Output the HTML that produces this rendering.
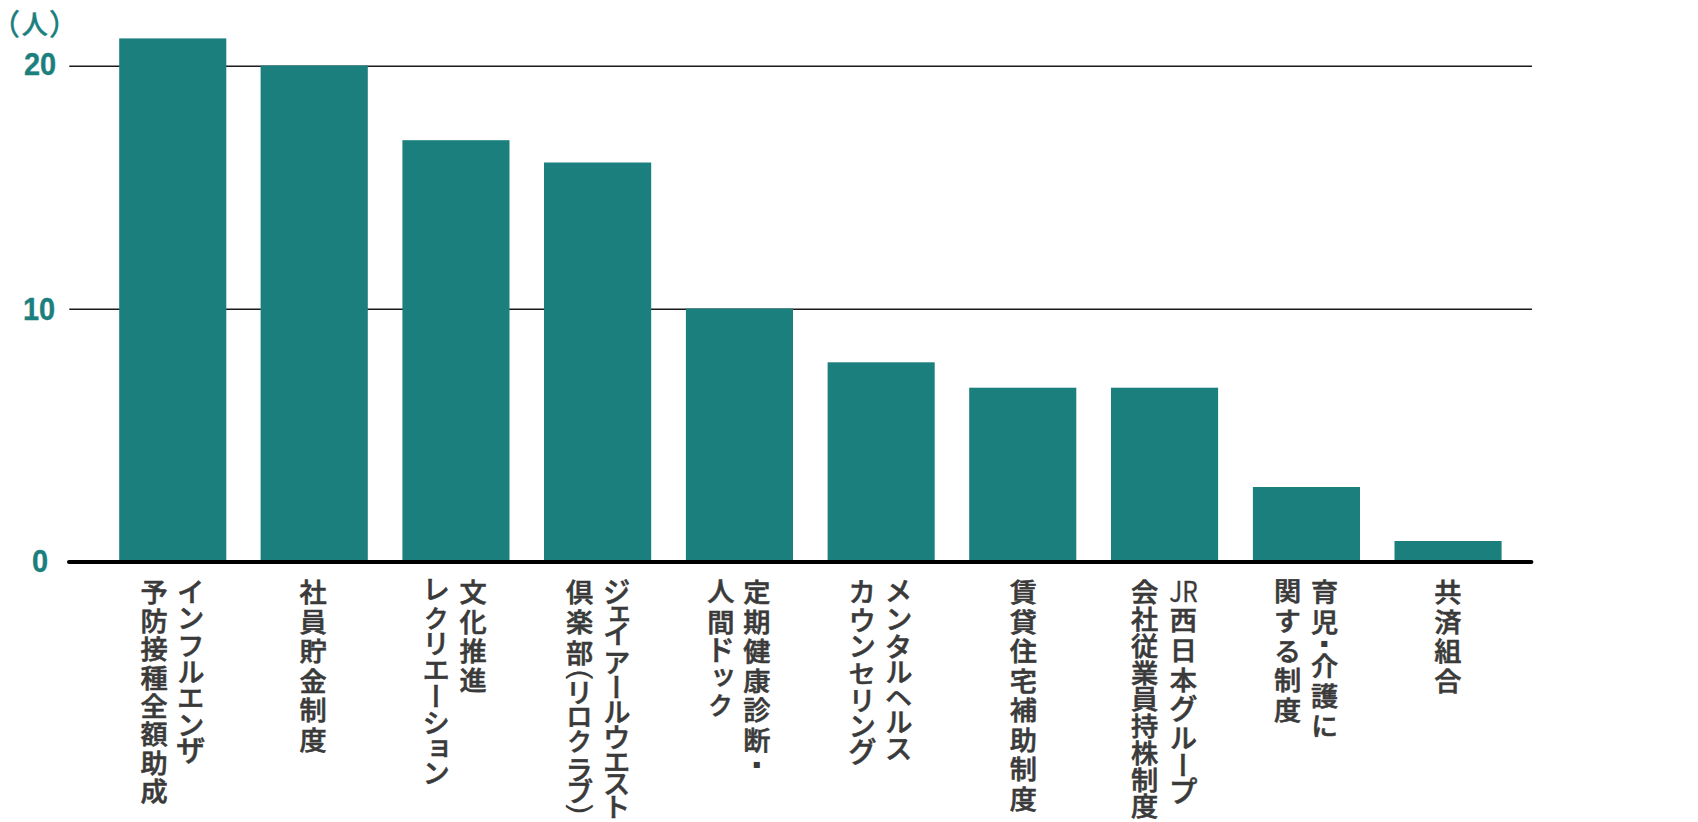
<!DOCTYPE html>
<html lang="ja">
<head>
<meta charset="utf-8">
<title>福利厚生制度 利用者数</title>
<style>
html,body{margin:0;padding:0;background:#fff;}
body{width:1698px;height:822px;position:relative;overflow:hidden;font-family:"Liberation Sans","Noto Sans CJK JP",sans-serif;}
svg{position:absolute;left:0;top:0;}
.yl{position:absolute;color:#1b807d;font-weight:700;font-size:30px;line-height:1;white-space:nowrap;transform:scale(0.965,1.02);transform-origin:0 0;-webkit-text-stroke:0.35px #1b807d;}
.unit{position:absolute;color:#1b807d;font-family:"Noto Sans CJK JP","Liberation Sans",sans-serif;font-weight:500;font-size:26.4px;line-height:1;white-space:nowrap;-webkit-text-stroke:0.35px #1b807d;}
.up{font-size:29.5px;-webkit-text-stroke-width:0.15px;}
.v{position:absolute;writing-mode:vertical-rl;-webkit-writing-mode:vertical-rl;font-family:"Noto Sans CJK JP","Liberation Sans",sans-serif;font-weight:500;font-size:28px;line-height:1;color:#3a3a3a;-webkit-text-stroke:0.6px #3a3a3a;white-space:nowrap;width:28px;font-kerning:none;transform-origin:50% 0;}
.labels,.lab,.col{position:absolute;left:0;top:0;width:0;height:0;}
.tcy{writing-mode:horizontal-tb;-webkit-writing-mode:horizontal-tb;text-align:center;}
.tcy>span{display:inline-block;transform:scaleX(0.87);transform-origin:50% 50%;}
</style>
</head>
<body>

<svg width="1698" height="822" viewBox="0 0 1698 822">
<line x1="69.3" y1="66.25" x2="1532" y2="66.25" stroke="#1a1a1a" stroke-width="1.5"/>
<line x1="69.3" y1="309.25" x2="1532" y2="309.25" stroke="#1a1a1a" stroke-width="1.5"/>
<rect x="119.2" y="38.4" width="107.1" height="522.6" fill="#1b807d"/>
<rect x="260.6" y="65.5" width="107.2" height="495.5" fill="#1b807d"/>
<rect x="402.4" y="140.2" width="107.1" height="420.8" fill="#1b807d"/>
<rect x="544.0" y="162.5" width="107.2" height="398.5" fill="#1b807d"/>
<rect x="685.9" y="308.5" width="107.1" height="252.5" fill="#1b807d"/>
<rect x="827.6" y="362.3" width="107.1" height="198.7" fill="#1b807d"/>
<rect x="969.2" y="387.7" width="107.1" height="173.3" fill="#1b807d"/>
<rect x="1111.0" y="387.7" width="107.1" height="173.3" fill="#1b807d"/>
<rect x="1252.9" y="487.0" width="107.1" height="74.0" fill="#1b807d"/>
<rect x="1394.5" y="541.0" width="107.1" height="20.0" fill="#1b807d"/>
<line x1="69" y1="562" x2="1531.4" y2="562" stroke="#000" stroke-width="4.1" stroke-linecap="round"/>
</svg>
<div class="col"><span id="u1" class="unit up" style="left:-9.24px;top:8.01px;">（</span><span id="u2" class="unit" style="left:21.46px;top:9.59px;">人</span><span id="u3" class="unit up" style="left:48.81px;top:8.02px;">）</span></div>
<div id="y20" class="yl" style="left:24.13px;top:48.7px;">20</div>
<div id="y10" class="yl" style="left:23.49px;top:294.05px;">10</div>
<div id="y0" class="yl" style="left:31.96px;top:546.2px;">0</div>
<div class="labels">
<div class="lab"><div class="col"><span id="c1_0" class="v" style="left:175.93px;top:577.63px;font-size:27.8px;width:27.8px;-webkit-text-stroke-width:0.55px;">イ</span><span id="c1_1" class="v" style="left:175.93px;top:603.92px;font-size:27.8px;width:27.8px;-webkit-text-stroke-width:0.55px;">ン</span><span id="c1_2" class="v" style="left:175.93px;top:631.54px;font-size:27.8px;width:27.8px;-webkit-text-stroke-width:0.55px;">フ</span><span id="c1_3" class="v" style="left:175.93px;top:657.76px;font-size:27.8px;width:27.8px;-webkit-text-stroke-width:0.55px;">ル</span><span id="c1_4" class="v" style="left:175.93px;top:684.15px;font-size:27.8px;width:27.8px;-webkit-text-stroke-width:0.55px;">エ</span><span id="c1_5" class="v" style="left:175.93px;top:710.82px;font-size:27.8px;width:27.8px;-webkit-text-stroke-width:0.55px;">ン</span><span id="c1_6" class="v" style="left:175.8px;top:735.14px;font-size:30.0px;width:30.0px;-webkit-text-stroke-width:0.55px;">ザ</span></div><div class="col"><span id="c2" class="v" style="left:139.85px;top:578.74px;letter-spacing:2.12px;font-size:27.2px;width:27.2px;transform:scaleY(0.97);">予防接種全額助成</span></div></div>
<div class="lab"><div class="col"><span id="c3" class="v" style="left:298.95px;top:578.68px;letter-spacing:3.22px;font-size:27.2px;width:27.2px;transform:scaleY(0.97);">社員貯金制度</span></div></div>
<div class="lab"><div class="col"><span id="c4" class="v" style="left:458.85px;top:578.62px;letter-spacing:3.05px;font-size:27.2px;width:27.2px;transform:scaleY(0.97);">文化推進</span></div><div class="col"><span id="c5_0" class="v" style="left:421.33px;top:575.06px;font-size:27.8px;width:27.8px;-webkit-text-stroke-width:0.55px;">レ</span><span id="c5_1" class="v" style="left:423.19px;top:606.49px;font-size:25.0px;width:25.0px;-webkit-text-stroke-width:0.55px;">ク</span><span id="c5_2" class="v" style="left:421.33px;top:629.85px;font-size:27.8px;width:27.8px;-webkit-text-stroke-width:0.55px;">リ</span><span id="c5_3" class="v" style="left:421.33px;top:656.15px;font-size:27.8px;width:27.8px;-webkit-text-stroke-width:0.55px;">エ</span><span id="c5_4" class="v" style="left:421.33px;top:682.64px;font-size:27.8px;width:27.8px;-webkit-text-stroke-width:0.55px;">ー</span><span id="c5_5" class="v" style="left:421.33px;top:708.59px;font-size:27.8px;width:27.8px;-webkit-text-stroke-width:0.55px;">シ</span><span id="c5_6" class="v" style="left:421.33px;top:735.4px;font-size:27.8px;width:27.8px;-webkit-text-stroke-width:0.55px;">ョ</span><span id="c5_7" class="v" style="left:421.33px;top:758.96px;font-size:27.8px;width:27.8px;-webkit-text-stroke-width:0.55px;">ン</span></div></div>
<div class="lab"><div class="col"><span id="c6_0" class="v" style="left:601.93px;top:577.08px;font-size:27.8px;width:27.8px;transform:scaleY(1.08);-webkit-text-stroke-width:0.55px;">ジ</span><span id="c6_1" class="v" style="left:601.93px;top:600.92px;font-size:27.8px;width:27.8px;-webkit-text-stroke-width:0.55px;">ェ</span><span id="c6_2" class="v" style="left:601.93px;top:620.23px;font-size:27.8px;width:27.8px;-webkit-text-stroke-width:0.55px;">イ</span><span id="c6_3" class="v" style="left:601.93px;top:648.95px;font-size:27.8px;width:27.8px;-webkit-text-stroke-width:0.55px;">ア</span><span id="c6_4" class="v" style="left:601.93px;top:674.24px;font-size:27.8px;width:27.8px;-webkit-text-stroke-width:0.55px;">ー</span><span id="c6_5" class="v" style="left:601.93px;top:697.56px;font-size:27.8px;width:27.8px;-webkit-text-stroke-width:0.55px;">ル</span><span id="c6_6" class="v" style="left:601.93px;top:723.99px;font-size:27.8px;width:27.8px;-webkit-text-stroke-width:0.55px;">ウ</span><span id="c6_7" class="v" style="left:601.93px;top:748.23px;font-size:27.8px;width:27.8px;-webkit-text-stroke-width:0.55px;">エ</span><span id="c6_8" class="v" style="left:601.93px;top:770.19px;font-size:27.8px;width:27.8px;-webkit-text-stroke-width:0.55px;">ス</span><span id="c6_9" class="v" style="left:601.93px;top:793.3px;font-size:27.8px;width:27.8px;-webkit-text-stroke-width:0.55px;">ト</span></div><div class="col"><span id="c7a" class="v" style="left:565.45px;top:579.13px;letter-spacing:3.92px;font-size:27.2px;width:27.2px;transform:scaleY(0.97);">倶楽部</span><span id="c7b" class="v" style="left:569.12px;top:668.14px;font-size:27px;width:27px;transform:scaleY(1.4);-webkit-text-stroke-width:0px;font-weight:400;">(</span><span id="c7c_0" class="v" style="left:564.53px;top:679.02px;font-size:27.8px;width:27.8px;-webkit-text-stroke-width:0.55px;">リ</span><span id="c7c_1" class="v" style="left:564.53px;top:702.77px;font-size:27.8px;width:27.8px;-webkit-text-stroke-width:0.55px;">ロ</span><span id="c7c_2" class="v" style="left:566.39px;top:728.82px;font-size:25.0px;width:25.0px;-webkit-text-stroke-width:0.55px;">ク</span><span id="c7c_3" class="v" style="left:564.53px;top:755.85px;font-size:27.8px;width:27.8px;-webkit-text-stroke-width:0.55px;">ラ</span><span id="c7c_4" class="v" style="left:564.53px;top:777.9px;font-size:27.8px;width:27.8px;-webkit-text-stroke-width:0.55px;">ブ</span><span id="c7d" class="v" style="left:569.12px;top:803.0px;font-size:27px;width:27px;transform:scaleY(1.4);-webkit-text-stroke-width:0px;font-weight:400;">)</span></div></div>
<div class="lab"><div class="col"><span id="c8a" class="v" style="left:742.75px;top:579.2px;letter-spacing:3.26px;font-size:27.2px;width:27.2px;transform:scaleY(0.97);">定期健康診断</span><span id="c8b" class="v" style="left:734.6px;top:742.38px;font-size:45px;width:45px;-webkit-text-stroke-width:0px;font-weight:400;font-family:IPAGothic,'Noto Sans CJK JP',sans-serif;">・</span></div><div class="col"><span id="c9a" class="v" style="left:706.55px;top:577.68px;letter-spacing:4.59px;font-size:27.2px;width:27.2px;transform:scaleY(0.97);">人間</span><span id="c9b_0" class="v" style="left:705.01px;top:634.75px;font-size:29.5px;width:29.5px;-webkit-text-stroke-width:0.55px;">ド</span><span id="c9b_1" class="v" style="left:705.63px;top:663.69px;font-size:27.8px;width:27.8px;-webkit-text-stroke-width:0.55px;">ッ</span><span id="c9b_2" class="v" style="left:707.49px;top:692.93px;font-size:25.0px;width:25.0px;-webkit-text-stroke-width:0.55px;">ク</span></div></div>
<div class="lab"><div class="col"><span id="c10_0" class="v" style="left:883.93px;top:576.96px;font-size:27.8px;width:27.8px;-webkit-text-stroke-width:0.55px;">メ</span><span id="c10_1" class="v" style="left:883.93px;top:604.72px;font-size:27.8px;width:27.8px;-webkit-text-stroke-width:0.55px;">ン</span><span id="c10_2" class="v" style="left:883.93px;top:633.2px;font-size:27.8px;width:27.8px;-webkit-text-stroke-width:0.55px;">タ</span><span id="c10_3" class="v" style="left:883.93px;top:658.36px;font-size:27.8px;width:27.8px;-webkit-text-stroke-width:0.55px;">ル</span><span id="c10_4" class="v" style="left:883.93px;top:686.14px;font-size:27.8px;width:27.8px;transform:scaleY(0.82);-webkit-text-stroke-width:0.55px;">ヘ</span><span id="c10_5" class="v" style="left:883.93px;top:707.66px;font-size:27.8px;width:27.8px;-webkit-text-stroke-width:0.55px;">ル</span><span id="c10_6" class="v" style="left:883.93px;top:735.29px;font-size:27.8px;width:27.8px;-webkit-text-stroke-width:0.55px;">ス</span></div><div class="col"><span id="c11_0" class="v" style="left:847.43px;top:578.23px;font-size:27.8px;width:27.8px;-webkit-text-stroke-width:0.55px;">カ</span><span id="c11_1" class="v" style="left:847.43px;top:607.14px;font-size:27.8px;width:27.8px;-webkit-text-stroke-width:0.55px;">ウ</span><span id="c11_2" class="v" style="left:847.43px;top:631.76px;font-size:27.8px;width:27.8px;-webkit-text-stroke-width:0.55px;">ン</span><span id="c11_3" class="v" style="left:847.43px;top:660.9px;font-size:27.8px;width:27.8px;transform:scaleY(0.88);-webkit-text-stroke-width:0.55px;">セ</span><span id="c11_4" class="v" style="left:847.43px;top:686.8px;font-size:27.8px;width:27.8px;-webkit-text-stroke-width:0.55px;">リ</span><span id="c11_5" class="v" style="left:847.43px;top:712.26px;font-size:27.8px;width:27.8px;-webkit-text-stroke-width:0.55px;">ン</span><span id="c11_6" class="v" style="left:847.28px;top:737.03px;font-size:29.0px;width:29.0px;-webkit-text-stroke-width:0.55px;">グ</span></div></div>
<div class="lab"><div class="col"><span id="c12" class="v" style="left:1009.05px;top:578.56px;letter-spacing:3.23px;font-size:27.2px;width:27.2px;transform:scaleY(0.97);">賃貸住宅補助制度</span></div></div>
<div class="lab"><div class="col"><span id="c13a" class="v tcy" style="left:1166.7px;top:576.1px;-webkit-text-stroke-width:0.3px;font-weight:400;"><span>JR</span></span><span id="c13b" class="v" style="left:1169.25px;top:607.32px;letter-spacing:3.74px;font-size:27.2px;width:27.2px;transform:scaleY(0.97);">西日本</span><span id="c13c_0" class="v" style="left:1168.18px;top:693.56px;font-size:29.0px;width:29.0px;-webkit-text-stroke-width:0.55px;">グ</span><span id="c13c_1" class="v" style="left:1168.33px;top:723.61px;font-size:27.8px;width:27.8px;-webkit-text-stroke-width:0.55px;">ル</span><span id="c13c_2" class="v" style="left:1168.33px;top:751.94px;font-size:27.8px;width:27.8px;-webkit-text-stroke-width:0.55px;">ー</span><span id="c13c_3" class="v" style="left:1167.71px;top:775.52px;font-size:29.5px;width:29.5px;-webkit-text-stroke-width:0.55px;">プ</span></div><div class="col"><span id="c14" class="v" style="left:1130.45px;top:578.68px;letter-spacing:0.41px;font-size:27.2px;width:27.2px;transform:scaleY(0.97);">会社従業員持株制度</span></div></div>
<div class="lab"><div class="col"><span id="c15a" class="v" style="left:1310.35px;top:578.67px;letter-spacing:3.12px;font-size:27.2px;width:27.2px;transform:scaleY(0.97);">育児</span><span id="c15b" class="v" style="left:1302.0px;top:621.48px;font-size:45px;width:45px;-webkit-text-stroke-width:0px;font-weight:400;font-family:IPAGothic,'Noto Sans CJK JP',sans-serif;">・</span><span id="c15c" class="v" style="left:1310.35px;top:653.21px;letter-spacing:3.62px;font-size:27.2px;width:27.2px;transform:scaleY(0.97);">介護に</span></div><div class="col"><span id="c16" class="v" style="left:1273.35px;top:578.1px;letter-spacing:3.45px;font-size:27.2px;width:27.2px;transform:scaleY(0.97);">関する制度</span></div></div>
<div class="lab"><div class="col"><span id="c17" class="v" style="left:1433.7px;top:579.2px;letter-spacing:3.35px;font-size:27.2px;width:27.2px;transform:scaleY(0.97);">共済組合</span></div></div>
</div>
</body>
</html>
